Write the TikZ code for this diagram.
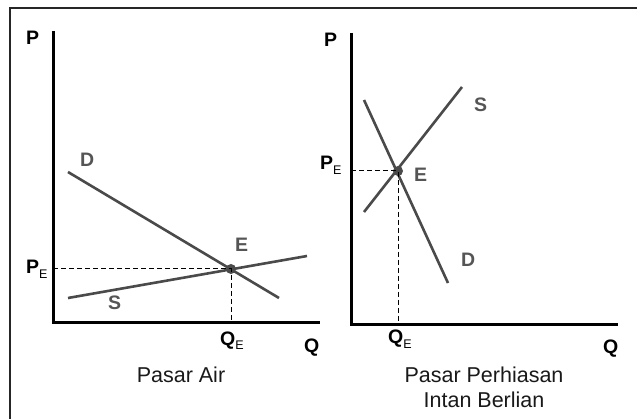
\documentclass[tikz,border=0pt]{standalone}
\usepackage{fontspec}
\setmainfont{Liberation Sans}
\definecolor{curve}{HTML}{4A4A4A}
\definecolor{lbl}{HTML}{555555}
\newcommand{\subE}{\raisebox{-5pt}{\fontsize{12.5}{12.5}\selectfont\mdseries E}}
\begin{document}
\begin{tikzpicture}[x=1pt,y=-1pt,
  axis/.style={line width=3pt,black},
  curveline/.style={line width=2.6pt,curve},
  guide/.style={dash pattern=on 5pt off 3pt,line width=1pt,black},
  axlbl/.style={font=\fontsize{19.5}{22}\selectfont\bfseries,text=black,inner sep=0pt},
  cvlbl/.style={font=\fontsize{19.5}{22}\selectfont\bfseries,text=lbl,inner sep=0pt},
  title/.style={font=\fontsize{21.5}{25}\selectfont,text=black!90,inner sep=0pt,align=center},
  dot/.style={circle,fill=curve,inner sep=0pt,minimum size=10pt}]
\useasboundingbox (0,0) rectangle (637,419);
% frame
\draw[line width=2.5pt,black!85] (10,430) -- (10,8) -- (645,8);

% ---------- left panel: Pasar Air ----------
\coordinate (A0) at (53,323);
\coordinate (Atop) at (53,31);
\coordinate (Aend) at (320,323);
\draw[axis] (Atop) -- (A0) -- (Aend);
\coordinate (D1a) at (68,172);
\coordinate (D1b) at (279,298);
\coordinate (S1a) at (68,298);
\coordinate (S1b) at (307,256);
\draw[curveline] (D1a) -- (D1b);
\draw[curveline] (S1a) -- (S1b);
\node[dot] (E1) at (231,269) {};
\coordinate (PE1) at (53,269);
\coordinate (QE1) at (231,323);
\draw[guide] (PE1) -- (E1.center) -- (QE1);
\node[axlbl,anchor=base west] (P1) at (26,45) {P};
\node[axlbl,anchor=base west] (Q1) at (304,353) {Q};
\node[axlbl,anchor=base west] (PE1l) at (26,274) {P\subE};
\node[axlbl,anchor=base west] (QE1l) at (220,345) {Q\subE};
\node[cvlbl,anchor=base west] (Dl1) at (80,167) {D};
\node[cvlbl,anchor=base west] (Sl1) at (108,310) {S};
\node[cvlbl,anchor=base west] (El1) at (235,252) {E};
\node[title,anchor=base] (T1) at (181,382) {Pasar Air};

% ---------- right panel: Pasar Perhiasan Intan Berlian ----------
\coordinate (B0) at (351,325);
\coordinate (Btop) at (351,33);
\coordinate (Bend) at (618,325);
\draw[axis] (Btop) -- (B0) -- (Bend);
\coordinate (S2a) at (364,212);
\coordinate (S2b) at (462,87);
\coordinate (D2a) at (364,100);
\coordinate (D2b) at (448,283);
\draw[curveline] (S2a) -- (S2b);
\draw[curveline] (D2a) -- (D2b);
\node[dot] (E2) at (398,171) {};
\coordinate (PE2) at (351,171);
\coordinate (QE2) at (398,325);
\draw[guide] (PE2) -- (E2.center) -- (QE2);
\node[axlbl,anchor=base west] (P2) at (324,47) {P};
\node[axlbl,anchor=base west] (Q2) at (603,354) {Q};
\node[axlbl,anchor=base west] (PE2l) at (320,170) {P\subE};
\node[axlbl,anchor=base west] (QE2l) at (388,344) {Q\subE};
\node[cvlbl,anchor=base west] (Sl2) at (474,112) {S};
\node[cvlbl,anchor=base west] (Dl2) at (461,267) {D};
\node[cvlbl,anchor=base west] (El2) at (414,182) {E};
\node[title,anchor=base] (T2) at (484,407) {Pasar Perhiasan\\Intan Berlian};
\end{tikzpicture}
\end{document}
